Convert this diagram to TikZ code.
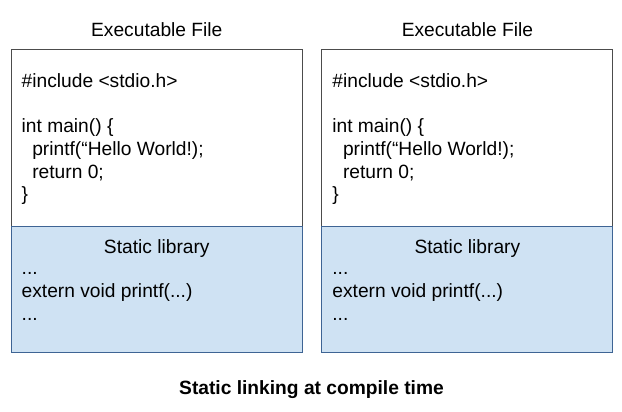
\documentclass[tikz,border=0pt]{standalone}
\usepackage{fontspec}
\setmainfont{Liberation Sans}
\usepackage{tikz}
\usetikzlibrary{positioning}

\definecolor{libfill}{RGB}{207,226,243}
\definecolor{libline}{RGB}{62,100,148}
\newcommand{\codefont}{\fontsize{19.2}{22.7}\selectfont}

\begin{document}
\begin{tikzpicture}[x=1pt, y=-1pt,
  filebox/.style={draw=black!70, line width=1pt, fill=white, minimum width=291pt, minimum height=177.2pt, outer sep=0pt, inner sep=0pt},
  libbox/.style={draw=libline, line width=1pt, fill=libfill, minimum width=291pt, minimum height=125.5pt, outer sep=0pt, inner sep=0pt},
  codetext/.style={font=\codefont, align=left, anchor=north west, inner sep=0pt},
  heading/.style={font=\codefont, anchor=base}]
\useasboundingbox (0,0) rectangle (622,412);

% left executable
\node[filebox,
      label={[heading, name=headA, label distance=12.6pt]north:Executable File}
] (exeA) at (156.8,137.9) {};
\node[libbox, below=0pt of exeA,
      label={[heading, name=libheadA, label distance=-27.3pt]north:Static library}
] (libA) {};
\node[codetext] (codeA) at (21.5,71.4) {\strut\#include <stdio.h>\\[22.7pt]int main() \{\\\hspace*{10.6pt}printf(“Hello World!);\\\hspace*{10.6pt}return 0;\\\}};
\node[codetext] (libcodeA) at (21.5,258.6) {\strut...\\extern void printf(...)\\...};

% right executable
\node[filebox,
      label={[heading, name=headB, label distance=12.6pt]north:Executable File}
] (exeB) at (467.4,137.9) {};
\node[libbox, below=0pt of exeB,
      label={[heading, name=libheadB, label distance=-27.3pt]north:Static library}
] (libB) {};
\node[codetext] (codeB) at (332.2,71.4) {\strut\#include <stdio.h>\\[22.7pt]int main() \{\\\hspace*{10.6pt}printf(“Hello World!);\\\hspace*{10.6pt}return 0;\\\}};
\node[codetext] (libcodeB) at (332.2,258.6) {\strut...\\extern void printf(...)\\...};

\node[heading, font=\codefont\bfseries] (caption) at (311.5,394) {Static linking at compile time};
\end{tikzpicture}
\end{document}
